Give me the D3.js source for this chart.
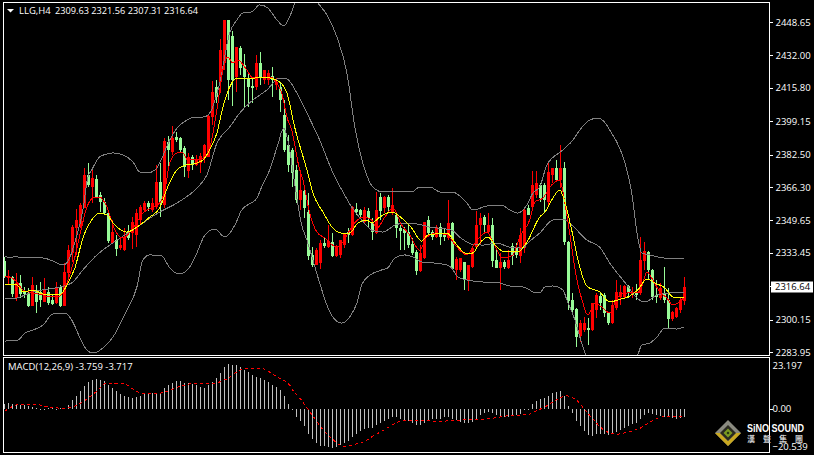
<!DOCTYPE html>
<html><head><meta charset="utf-8">
<script src="https://cdn.jsdelivr.net/npm/d3@7"></script>
<style>
html,body{margin:0;padding:0;background:#000;overflow:hidden}
svg{display:block}
text{font-family:"Open Sans","Liberation Sans",sans-serif;font-size:9.5px;fill:#fff}
</style></head><body>
<svg id="c" width="814" height="455"></svg>
<script>
const symbolTitle="LLG,H4";
const quoteTitle="2309.63 2321.56 2307.31 2316.64";
const macdTitle="MACD(12,26,9) -3.759 -3.717";
const lastPrice=2316.64;
const priceTicks=[2448.65,2432.00,2415.80,2399.15,2382.50,2366.30,2349.65,2333.45,2300.15,2283.95];
const macdTicks=[23.197,0,-20.539];

const opens=[2329.4,2320.9,2321.4,2310.9,2318.4,2314.4,2313.4,2306.9,2314.9,2313.9,
2308.9,2313.9,2309.9,2308.4,2316.4,2306.9,2323.4,2333.4,2345.8,2346.3,
2355.8,2372.3,2366.3,2370.3,2362.3,2358.8,2353.3,2338.3,2339.8,2335.8,
2334.8,2343.8,2343.3,2342.3,2349.8,2354.8,2358.3,2354.8,2356.3,2368.8,
2357.3,2388.7,2383.8,2391.2,2390.7,2385.7,2374.3,2381.3,2377.3,2378.3,
2380.8,2381.3,2401.2,2416.2,2418.7,2428.2,2449.7,2441.7,2421.2,2435.7,
2427.2,2420.7,2416.7,2416.2,2428.2,2419.7,2419.7,2421.7,2417.2,2416.2,
2402.2,2387.2,2384.8,2374.8,2359.8,2364.3,2353.8,2332.4,2327.4,2328.4,
2338.3,2336.3,2338.8,2331.9,2332.4,2337.3,2343.8,2342.3,2355.3,2354.8,
2348.8,2354.3,2348.8,2343.3,2361.3,2355.8,2361.3,2353.3,2352.3,2345.8,
2345.3,2343.8,2337.8,2333.9,2324.4,2330.9,2349.8,2343.8,2341.3,2346.3,
2343.3,2340.8,2348.3,2324.9,2324.9,2328.9,2319.4,2326.4,2336.3,2347.3,
2351.3,2343.8,2347.3,2329.9,2325.9,2328.9,2325.9,2336.8,2336.3,2331.9,
2335.8,2355.8,2356.3,2362.3,2367.3,2367.3,2358.8,2372.3,2375.8,2369.8,
2375.8,2338.8,2309.9,2305.4,2291.9,2294.9,2295.9,2294.9,2304.9,2311.9,
2312.4,2303.4,2298.4,2305.9,2311.4,2311.4,2316.9,2312.4,2313.4,2313.4,
2329.4,2333.9,2324.9,2312.4,2310.9,2313.4,2309.9,2300.4,2301.4,2304.9,2309.63];
const highs=[2331.4,2324.9,2321.9,2323.4,2322.4,2316.4,2315.9,2321.4,2317.4,2318.9,
2320.9,2316.4,2312.4,2318.9,2317.4,2328.4,2337.3,2347.3,2355.3,2358.3,
2375.8,2378.3,2374.8,2372.3,2363.8,2360.8,2354.3,2349.8,2342.3,2340.8,
2345.8,2347.3,2351.3,2355.3,2357.3,2359.3,2359.3,2360.8,2377.3,2378.3,
2390.7,2391.7,2396.7,2393.7,2391.2,2386.7,2383.3,2382.3,2382.3,2383.3,
2387.7,2402.2,2419.2,2419.7,2440.2,2449.7,2449.7,2444.2,2436.2,2436.7,
2432.7,2423.7,2420.7,2432.2,2433.7,2424.7,2424.7,2426.2,2420.7,2418.7,
2409.7,2392.2,2385.7,2377.3,2374.8,2367.3,2363.3,2336.3,2335.8,2339.8,
2341.3,2347.3,2343.3,2337.3,2339.8,2343.3,2345.8,2356.8,2358.3,2355.3,
2356.3,2355.8,2350.8,2363.8,2363.3,2361.8,2362.3,2365.8,2352.3,2347.3,
2346.3,2347.3,2340.8,2334.8,2337.3,2348.8,2351.8,2344.8,2347.3,2348.3,
2345.8,2359.8,2348.8,2331.4,2330.9,2328.9,2327.4,2336.3,2354.3,2353.3,
2352.3,2353.3,2350.8,2334.8,2333.3,2329.9,2334.8,2338.3,2338.3,2345.8,
2355.3,2357.3,2374.3,2374.3,2368.3,2368.3,2378.3,2375.8,2379.8,2387.2,
2378.8,2339.3,2313.4,2305.9,2299.9,2301.4,2300.9,2308.4,2313.4,2313.4,
2313.4,2303.9,2309.9,2319.9,2317.4,2317.4,2317.4,2316.4,2317.9,2341.3,
2338.8,2334.4,2325.4,2319.9,2318.4,2326.4,2315.9,2304.4,2306.4,2310.9,2321.56];
const lows=[2320.9,2317.4,2311.4,2309.4,2310.9,2310.9,2306.4,2306.9,2303.4,2306.4,
2308.9,2307.4,2307.4,2307.9,2306.4,2306.9,2319.9,2328.9,2332.4,2345.8,
2355.8,2366.3,2358.3,2360.8,2353.8,2352.3,2338.3,2338.3,2331.9,2334.8,
2334.4,2339.8,2335.3,2336.3,2347.3,2354.3,2354.3,2353.8,2355.3,2351.3,
2355.8,2374.8,2382.3,2388.7,2383.3,2371.3,2370.8,2374.8,2376.8,2373.3,
2378.3,2381.3,2397.2,2408.2,2413.2,2424.7,2409.7,2406.7,2413.7,2422.2,
2406.2,2406.2,2408.2,2414.7,2417.2,2417.7,2417.2,2411.2,2414.7,2403.7,
2383.8,2373.8,2366.3,2358.3,2354.8,2350.8,2329.9,2326.4,2327.4,2325.4,
2335.8,2335.8,2331.4,2331.4,2330.9,2335.8,2338.3,2341.8,2352.3,2351.3,
2348.3,2346.3,2339.8,2342.8,2349.8,2353.3,2353.8,2352.3,2340.8,2334.8,
2334.8,2335.8,2332.4,2322.4,2323.9,2330.4,2342.3,2339.8,2340.8,2337.3,
2339.3,2339.8,2324.9,2319.9,2323.9,2314.9,2314.4,2325.9,2335.8,2337.3,
2343.3,2343.3,2326.4,2325.9,2314.9,2325.4,2325.4,2327.4,2330.9,2328.4,
2333.4,2352.3,2355.8,2360.8,2358.8,2353.8,2357.3,2368.3,2368.8,2365.8,
2337.3,2304.9,2303.9,2286.4,2288.9,2293.9,2287.4,2294.4,2300.9,2304.9,
2301.4,2297.4,2297.9,2304.9,2307.4,2310.9,2310.9,2310.9,2309.9,2312.4,
2324.9,2319.9,2309.9,2308.4,2309.9,2308.4,2295.9,2299.4,2300.9,2303.4,2307.31];
const closes=[2321.9,2321.9,2312.9,2318.4,2312.9,2312.9,2306.9,2317.4,2308.9,2309.9,
2314.9,2308.4,2307.9,2315.9,2306.9,2323.9,2334.8,2346.3,2349.8,2357.3,
2372.3,2367.3,2370.8,2361.3,2358.8,2353.3,2339.3,2343.8,2335.3,2337.3,
2341.3,2340.8,2348.8,2353.3,2356.3,2358.3,2356.3,2358.3,2368.8,2358.3,
2389.2,2384.7,2390.7,2389.7,2384.7,2376.3,2381.3,2377.3,2380.3,2381.8,
2387.2,2401.7,2413.7,2411.2,2434.7,2449.7,2419.7,2419.7,2436.2,2425.7,
2421.2,2416.2,2415.7,2428.2,2420.7,2424.7,2423.2,2419.7,2418.7,2409.7,
2384.7,2377.3,2373.3,2359.8,2364.8,2355.8,2331.9,2327.4,2334.8,2338.3,
2336.8,2339.3,2331.9,2336.3,2339.8,2343.3,2342.3,2356.3,2353.8,2352.3,
2354.8,2350.8,2343.8,2354.8,2354.3,2361.3,2356.3,2357.3,2345.8,2344.3,
2343.3,2337.3,2333.4,2324.4,2333.4,2348.8,2343.3,2341.3,2346.3,2341.3,
2341.3,2348.3,2325.4,2330.4,2330.9,2319.9,2327.4,2335.8,2347.3,2350.8,
2347.3,2347.3,2329.4,2325.9,2328.9,2326.4,2329.9,2331.9,2332.4,2342.3,
2354.8,2352.3,2367.3,2368.3,2360.8,2359.8,2373.8,2375.8,2369.8,2375.8,
2338.8,2309.4,2304.9,2291.4,2298.4,2298.4,2294.9,2308.4,2312.4,2308.4,
2303.4,2298.4,2307.4,2313.9,2313.9,2316.9,2313.4,2313.9,2312.4,2329.9,
2334.4,2324.9,2311.4,2311.4,2315.9,2309.9,2300.4,2303.9,2305.9,2309.9,2316.64];

const upperBars=[0,1.3,2.3,9.6,12.6,14.3,15.3,16.3,17.6,19.6,20.8,21.8,23.8,25.6,27.1,29.6,32.1,33.8,35.8,38.1,38.8,41.3,43.1,45.6,47.6,49.6,51.3,53.8,56.3,58.1,59.6,61.8,63.8,65.8,68.1,69.8,71.3,72.6,73.8,75.1,76.3,77.3,78.3,80.6,83.1,85.6,87.6,90.1,92.1,94.6,98.3,101.8,103.8,106.3,108.8,110.8,112.1,113.8,115.6,117.1,120.6,124.3,126.3,128.3,130.6,132.1,133.8,135.6,139.6,142.1,143.8,146.3,148.3,149.8,151.3,155.1,156.8,158.3,159.3,161.3,164.6,169.8];
const upperPrices=[2331.9,2330.9,2331.4,2330.9,2328.9,2327.4,2327.9,2330.9,2338.8,2354.8,2370.8,2374.8,2381.3,2382.8,2383.3,2382.3,2378.8,2373.8,2373.3,2375.8,2378.3,2389.7,2395.7,2399.7,2401.2,2401.2,2403.2,2418.2,2443.2,2449.7,2453.2,2453.7,2457.2,2455.7,2449.7,2446.7,2451.2,2458.2,2461.2,2458.2,2460.7,2460.7,2458.2,2452.2,2441.2,2423.2,2396.2,2374.8,2366.3,2363.8,2364.3,2363.8,2366.3,2366.3,2363.8,2363.3,2363.8,2361.8,2358.3,2354.8,2356.8,2357.3,2354.8,2353.3,2357.3,2363.3,2366.3,2377.3,2384.8,2389.7,2394.7,2399.7,2400.7,2399.2,2394.7,2378.3,2363.3,2341.3,2333.4,2332.4,2330.9,2330.4];
const lowerBars=[0,3.3,5.1,7.1,9.6,12.1,15.1,16.8,18.8,20.6,22.1,24.6,27.1,30.6,33.1,34.6,36.3,39.3,41.3,43.8,46.3,48.1,50.1,52.6,55.1,57.6,59.3,63.1,64.3,66.3,68.3,69.8,71.3,72.6,74.3,75.6,77.1,78.8,80.6,82.1,84.3,86.3,88.1,89.3,90.8,94.3,95.8,97.6,100.1,102.1,104.3,107.1,110.6,111.8,113.3,115.6,119.6,123.8,126.3,129.6,131.3,132.6,133.8,135.1,137.1,139.6,140.6,142.6,144.3,145.8,148.8,153.8,156.8,158.3,159.3,161.3,163.1,165.1,168.1,169.8];
const lowerPrices=[2289.4,2289.9,2293.4,2294.9,2297.4,2302.9,2303.4,2299.9,2291.4,2284.9,2283.4,2285.9,2291.4,2304.9,2316.4,2329.9,2332.4,2331.9,2325.9,2322.9,2326.4,2333.4,2342.3,2345.3,2341.3,2347.3,2354.8,2360.8,2366.3,2374.8,2387.2,2395.7,2384.8,2367.3,2347.3,2339.8,2329.9,2318.4,2307.4,2301.4,2298.4,2301.4,2308.4,2317.4,2321.4,2324.9,2325.9,2330.9,2332.4,2331.4,2328.9,2328.4,2327.4,2325.9,2321.4,2319.9,2318.9,2318.4,2316.9,2316.4,2314.9,2313.4,2313.4,2316.4,2316.9,2314.9,2309.9,2299.9,2288.4,2279.9,2269.9,2269.9,2278.9,2282.4,2287.4,2288.4,2291.4,2295.9,2295.4,2296.4];
const midBars=[0,2.1,3.8,7.1,13.8,16.8,19.6,23.1,26.3,29.3,33.1,38.8,43.1,48.1,50.6,53.1,56.3,58.8,62.1,65.6,68.8,70.6,73.1,75.6,78.8,81.8,84.6,86.8,89.3,91.8,94.6,97.6,100.1,103.3,106.3,111.8,113.8,116.8,119.6,123.1,126.3,129.6,130.8,133.8,137.1,139.6,141.8,145.6,148.8,151.3,155.6,158.1,160.1,163.1,166.3,169.8];
const midPrices=[2310.9,2310.4,2311.4,2313.9,2316.4,2318.4,2324.9,2332.4,2337.3,2341.3,2346.3,2353.8,2358.3,2365.8,2372.3,2388.2,2396.2,2403.2,2409.7,2414.7,2420.7,2420.2,2413.2,2403.2,2389.7,2374.8,2363.8,2356.3,2349.8,2344.8,2343.8,2347.3,2348.3,2347.8,2346.3,2344.8,2341.3,2337.8,2337.3,2338.3,2336.3,2335.8,2338.3,2343.3,2349.8,2350.3,2347.3,2339.8,2336.3,2328.4,2317.4,2310.9,2308.9,2312.4,2313.4,2313.4];
const fastBars=[0,1.3,3.1,4.6,7.1,9.6,11.3,13.8,15.6,17.6,19.3,20.6,22.6,23.8,25.6,27.6,29.6,32.1,34.6,38.8,40.1,41.3,43.1,44.6,45.8,48.1,50.1,51.3,53.1,54.6,55.8,57.1,58.3,60.6,62.1,63.8,66.3,68.1,69.3,70.6,71.8,73.8,74.6,76.3,78.1,80.1,83.1,84.6,87.1,89.6,91.8,93.1,95.1,97.1,99.3,101.3,103.8,105.6,108.1,110.6,113.1,115.6,117.6,120.6,122.1,124.6,127.1,128.8,131.3,132.6,134.6,136.8,138.8,140.1,141.3,143.1,144.6,145.8,147.6,149.3,151.3,153.3,155.6,158.1,159.3,160.6,162.1,163.8,165.6,167.1,169.8];
const fastPrices=[2321.9,2321.4,2318.9,2314.9,2313.4,2312.4,2311.4,2311.9,2318.4,2331.4,2346.3,2356.3,2361.3,2361.3,2356.3,2344.8,2340.8,2345.8,2353.3,2358.3,2364.8,2378.3,2383.3,2383.3,2379.8,2379.8,2380.8,2385.7,2404.7,2424.7,2431.2,2428.2,2429.7,2424.7,2420.7,2421.2,2421.2,2418.2,2413.2,2401.2,2394.7,2374.8,2369.8,2353.3,2343.8,2340.8,2336.3,2338.8,2347.3,2351.3,2349.8,2345.8,2351.3,2355.8,2347.3,2342.3,2334.8,2341.3,2343.3,2342.3,2336.3,2332.4,2338.3,2343.8,2338.8,2330.9,2332.4,2341.3,2349.8,2358.8,2360.8,2367.3,2369.8,2358.3,2343.3,2319.9,2308.4,2302.4,2308.4,2306.4,2303.4,2311.4,2313.4,2313.4,2316.4,2323.9,2319.9,2313.9,2310.9,2307.4,2310.9];
const slowBars=[0,3.1,4.6,7.1,9.6,11.3,13.8,15.6,17.6,19.6,21.8,23.8,25.6,27.6,30.6,33.1,36.3,38.8,40.8,43.1,44.6,48.1,49.6,51.3,53.1,54.6,56.3,58.1,61.3,63.8,66.3,68.8,70.6,72.6,75.6,77.1,79.6,82.1,84.3,86.3,88.3,90.6,91.8,93.8,96.8,99.3,101.8,104.3,105.8,110.6,113.1,115.6,117.1,118.8,120.8,123.1,125.1,128.3,130.6,133.8,135.1,137.1,138.8,140.1,141.8,143.8,145.8,148.8,151.3,153.3,156.3,158.3,160.6,162.6,165.1,167.1,169.8];
const slowPrices=[2317.4,2317.4,2313.9,2314.9,2312.9,2312.4,2312.4,2317.4,2325.9,2340.8,2349.8,2353.3,2352.3,2347.3,2343.8,2346.3,2351.3,2355.8,2366.3,2374.8,2376.8,2378.3,2379.8,2384.8,2393.2,2406.2,2416.2,2420.7,2420.2,2421.2,2420.7,2418.7,2413.2,2395.7,2374.8,2363.3,2353.8,2345.8,2343.3,2343.3,2348.3,2349.8,2348.3,2351.3,2353.8,2350.8,2345.8,2339.3,2342.3,2343.3,2337.3,2332.9,2333.4,2338.3,2341.3,2336.3,2333.9,2333.9,2338.8,2351.3,2353.8,2360.8,2364.8,2358.8,2344.8,2326.4,2316.4,2313.9,2308.9,2309.9,2311.9,2314.9,2320.4,2318.4,2315.9,2311.4,2310.9];

const macdValues=[2.3,2.6,2.3,2.2,1.9,1.6,1.1,0.8,0.5,0.1,0.1,0.4,0.4,0.1,0.2,0.5,
1.9,4.2,6.0,8.1,10.7,12.6,13.5,14.0,13.5,13.0,11.2,9.9,8.4,6.8,6.0,5.4,5.1,5.4,6.0,6.8,7.0,7.3,7.3,7.6,
9.9,10.9,12.2,13.0,13.0,12.2,11.9,11.5,10.9,10.1,9.9,11.2,12.4,14.4,16.9,19.7,20.9,20.5,20.5,19.7,
18.1,17.0,15.8,15.0,14.3,13.5,12.4,11.2,10.1,8.8,6.0,2.3,0,-3.7,
-5.6,-7.9,-11.5,-14.1,-16.1,-17.2,-17.5,-17.7,-18.0,-17.7,-16.9,-15.7,-14.9,-13.3,-11.8,-10.5,-9.5,-8.7,-8.7,-7.4,-6.4,-5.6,-4.8,-3.7,-4.0,-4.8,
-5.3,-5.6,-6.4,-7.4,-7.4,-6.4,-5.6,-4.8,-4.5,-4.5,-4.0,-3.6,-4.8,-5.3,-5.9,-6.4,-6.4,-5.9,-4.8,-2.9,-1.7,-1.4,-2.0,-2.9,-3.3,-3.6,-3.7,
-3.3,-2.9,-2.3,-0.3,-0.2,2.3,3.7,4.5,5.0,6.0,7.6,7.9,8.4,6.0,1.4,-1.7,-5.6,-8.2,-10.5,-12.1,-12.6,-11.8,-11.5,-11.8,-12.1,-11.8,-11.0,-9.8,-8.7,-7.9,-7.1,-6.4,-4.5,-2.8,-1.9,-2.5,-2.8,-3.3,-3.6,-4.0,-4.3,-4.5,-4.3,-3.759];
const signalBars=[0,2,4.3,7.2,10.5,14.7,16.8,19.7,23,25.5,30,32.2,34.7,38,40.5,43.8,48,52.2,55.5,59.7,63.8,68,71.3,72.2,73.7,76,78,80.2,81.8,83.5,85,87.7,89.8,92.2,95.2,98,101,104.3,108.5,111.8,116,119.3,122.3,125.6,128.5,131,132.7,135.6,138.5,140.6,143,145,147,149.6,151,153,156,158.9,161.8,164.8,170];
const signalValues=[-1.2,1.1,2.2,2.2,1.1,0.3,0.8,3.4,8.1,11.9,11.6,9.1,7.0,7.0,8.1,10.4,11.9,11.9,13.9,18.6,18.9,15.0,11.0,8.4,5.3,-0.5,-5.6,-11,-13.8,-16.4,-17.5,-16.4,-15.3,-12.6,-9.5,-6.4,-5.3,-5.3,-6,-5.3,-5.1,-4.8,-4.3,-3.3,-2.9,-2.6,-1.2,1.4,4.8,6,4,-0.2,-4.5,-9.5,-11,-11.8,-10.7,-9,-5.7,-3.7,-3.717];

const BULL="#ff0000",BEAR="#98fb98",GRAY="#808080",SILVER="#c0c0c0";
const svg=d3.select("#c");
const x=d3.scaleLinear().domain([0,170]).range([4.5,684.5]);
const y=d3.scaleLinear().domain([2283.95,2448.65]).range([352,22]);
const ym=d3.scaleLinear().domain([-20.539,23.197]).range([453,359]);
const defs=svg.append("defs");
defs.append("clipPath").attr("id","pc").append("rect").attr("x",4).attr("y",3).attr("width",765).attr("height",352);
defs.append("clipPath").attr("id","mc").append("rect").attr("x",4).attr("y",358).attr("width",765).attr("height",94);

const main=svg.append("g").attr("clip-path","url(#pc)").attr("shape-rendering","crispEdges");
const rows=d3.range(opens.length);
const col=i=>closes[i]>=opens[i]?BULL:BEAR;
main.selectAll("rect.w").data(rows).join("rect").attr("class","w")
  .attr("x",i=>x(i)-.5).attr("width",1)
  .attr("y",i=>y(highs[i])).attr("height",i=>Math.max(1,y(lows[i])-y(highs[i]))).attr("fill",col);
main.selectAll("rect.b").data(rows).join("rect").attr("class","b")
  .attr("x",i=>x(i)-1.5).attr("width",3)
  .attr("y",i=>y(Math.max(opens[i],closes[i]))).attr("height",i=>Math.max(1,Math.abs(y(opens[i])-y(closes[i])))).attr("fill",col);
const line=d3.line().x(d=>x(d[0])).y(d=>y(d[1])).curve(d3.curveMonotoneX);
[[upperBars,upperPrices,GRAY],[lowerBars,lowerPrices,GRAY],[midBars,midPrices,GRAY],[fastBars,fastPrices,BULL],[slowBars,slowPrices,"#ffff00"]]
 .forEach(([b,p,c])=>main.append("path").attr("d",line(d3.zip(b,p))).attr("fill","none").attr("stroke",c).attr("stroke-width",1));

const sub=svg.append("g").attr("clip-path","url(#mc)").attr("shape-rendering","crispEdges");
sub.selectAll("rect").data(macdValues).join("rect")
  .attr("x",(d,i)=>x(i)-.5).attr("width",1)
  .attr("y",d=>Math.min(ym(d),ym(0))).attr("height",d=>Math.max(1,Math.abs(ym(d)-ym(0)))).attr("fill",SILVER);
sub.append("path").attr("d",d3.line().x(d=>x(d[0])).y(d=>ym(d[1])).curve(d3.curveMonotoneX)(d3.zip(signalBars,signalValues)))
  .attr("fill","none").attr("stroke",BULL).attr("stroke-width",1).attr("stroke-dasharray","3 3");

// frame
const frame=svg.append("g").attr("fill","none").attr("stroke","#fff").attr("shape-rendering","crispEdges");
frame.append("rect").attr("x",3.5).attr("y",2.5).attr("width",766).attr("height",353);
frame.append("rect").attr("x",3.5).attr("y",357.5).attr("width",766).attr("height",94.5);

// axes
const fmt2=d3.format(".2f");
const ax=svg.append("g").attr("transform","translate(769.5,0)").call(d3.axisRight(y).tickValues(priceTicks).tickSize(3).tickPadding(3).tickFormat(fmt2));
ax.select(".domain").remove();
ax.selectAll("line").attr("stroke","#fff").attr("shape-rendering","crispEdges");
ax.selectAll("text").attr("fill","#fff").attr("font-size",null);
ax.attr("font-size",null).attr("font-family",null);
const mLabel=d=>d===0?"0.00":d3.format(".3f")(d);
const ax2=svg.append("g").attr("transform","translate(769.5,0)").call(d3.axisRight(ym).tickValues(macdTicks).tickSize(0).tickPadding(3).tickFormat(mLabel));
ax2.select(".domain").remove();
ax2.attr("font-size",null).attr("font-family",null);
ax2.selectAll("text").attr("fill","#fff")
  .attr("dy",d=>d>0?"1em":d<0?"-0.4em":"0.32em");
ax2.selectAll("line").filter(d=>d===0).attr("x2",3).attr("stroke","#fff").attr("shape-rendering","crispEdges");

// last price tag
svg.append("rect").attr("x",771).attr("y",y(lastPrice)-5).attr("width",42).attr("height",11).attr("fill","#fff");
svg.append("line").attr("x1",769.5).attr("x2",772).attr("y1",y(lastPrice)).attr("y2",y(lastPrice)).attr("stroke","#fff");
svg.append("text").attr("x",775).attr("y",y(lastPrice)).attr("dy","0.34em").style("fill","#000").text(fmt2(lastPrice));

// titles
svg.append("path").attr("d","M7,9 H14 L10.5,12.5 Z").attr("fill","#fff");
svg.append("text").attr("x",19).attr("y",14).text(symbolTitle);
svg.append("text").attr("x",55).attr("y",14).style("font-size","9.2px").text(quoteTitle);
svg.append("text").attr("x",8).attr("y",370).text(macdTitle);

// logo
const logo=svg.append("g").attr("transform","translate(728,433)");
logo.append("path").attr("d","M-13,0 L0,-13 L13,0 L0,13 Z").attr("fill","#8a8a80");
logo.append("path").attr("d","M-13,0 L0,13 L13,0 L8,0 L0,8 L-8,0 Z").attr("fill","#c9a820");
logo.append("path").attr("d","M-8,0 L0,-8 L8,0 L0,8 Z").attr("fill","#2a2a20");
logo.append("path").attr("d","M-4.5,0 L0,-4.5 L4.5,0 L0,4.5 Z").attr("fill","#7a9a20");
logo.append("path").attr("d","M-1.5,0 L0,-1.5 L1.5,0 L0,1.5 Z").attr("fill","#1a2a10");
svg.append("text").attr("x",747).attr("y",432).attr("textLength",57).attr("lengthAdjust","spacingAndGlyphs").style("font-weight","bold").style("font-size","10px").style("font-family","'Liberation Sans'").text("SiNO SOUND");
svg.append("text").attr("x",747).attr("y",442).style("font-size","8px").style("letter-spacing","8px").style("font-weight","bold").style("font-family","'Noto Sans CJK TC'").style("fill","#ccc").text("漢聲集團");
</script></body></html>
